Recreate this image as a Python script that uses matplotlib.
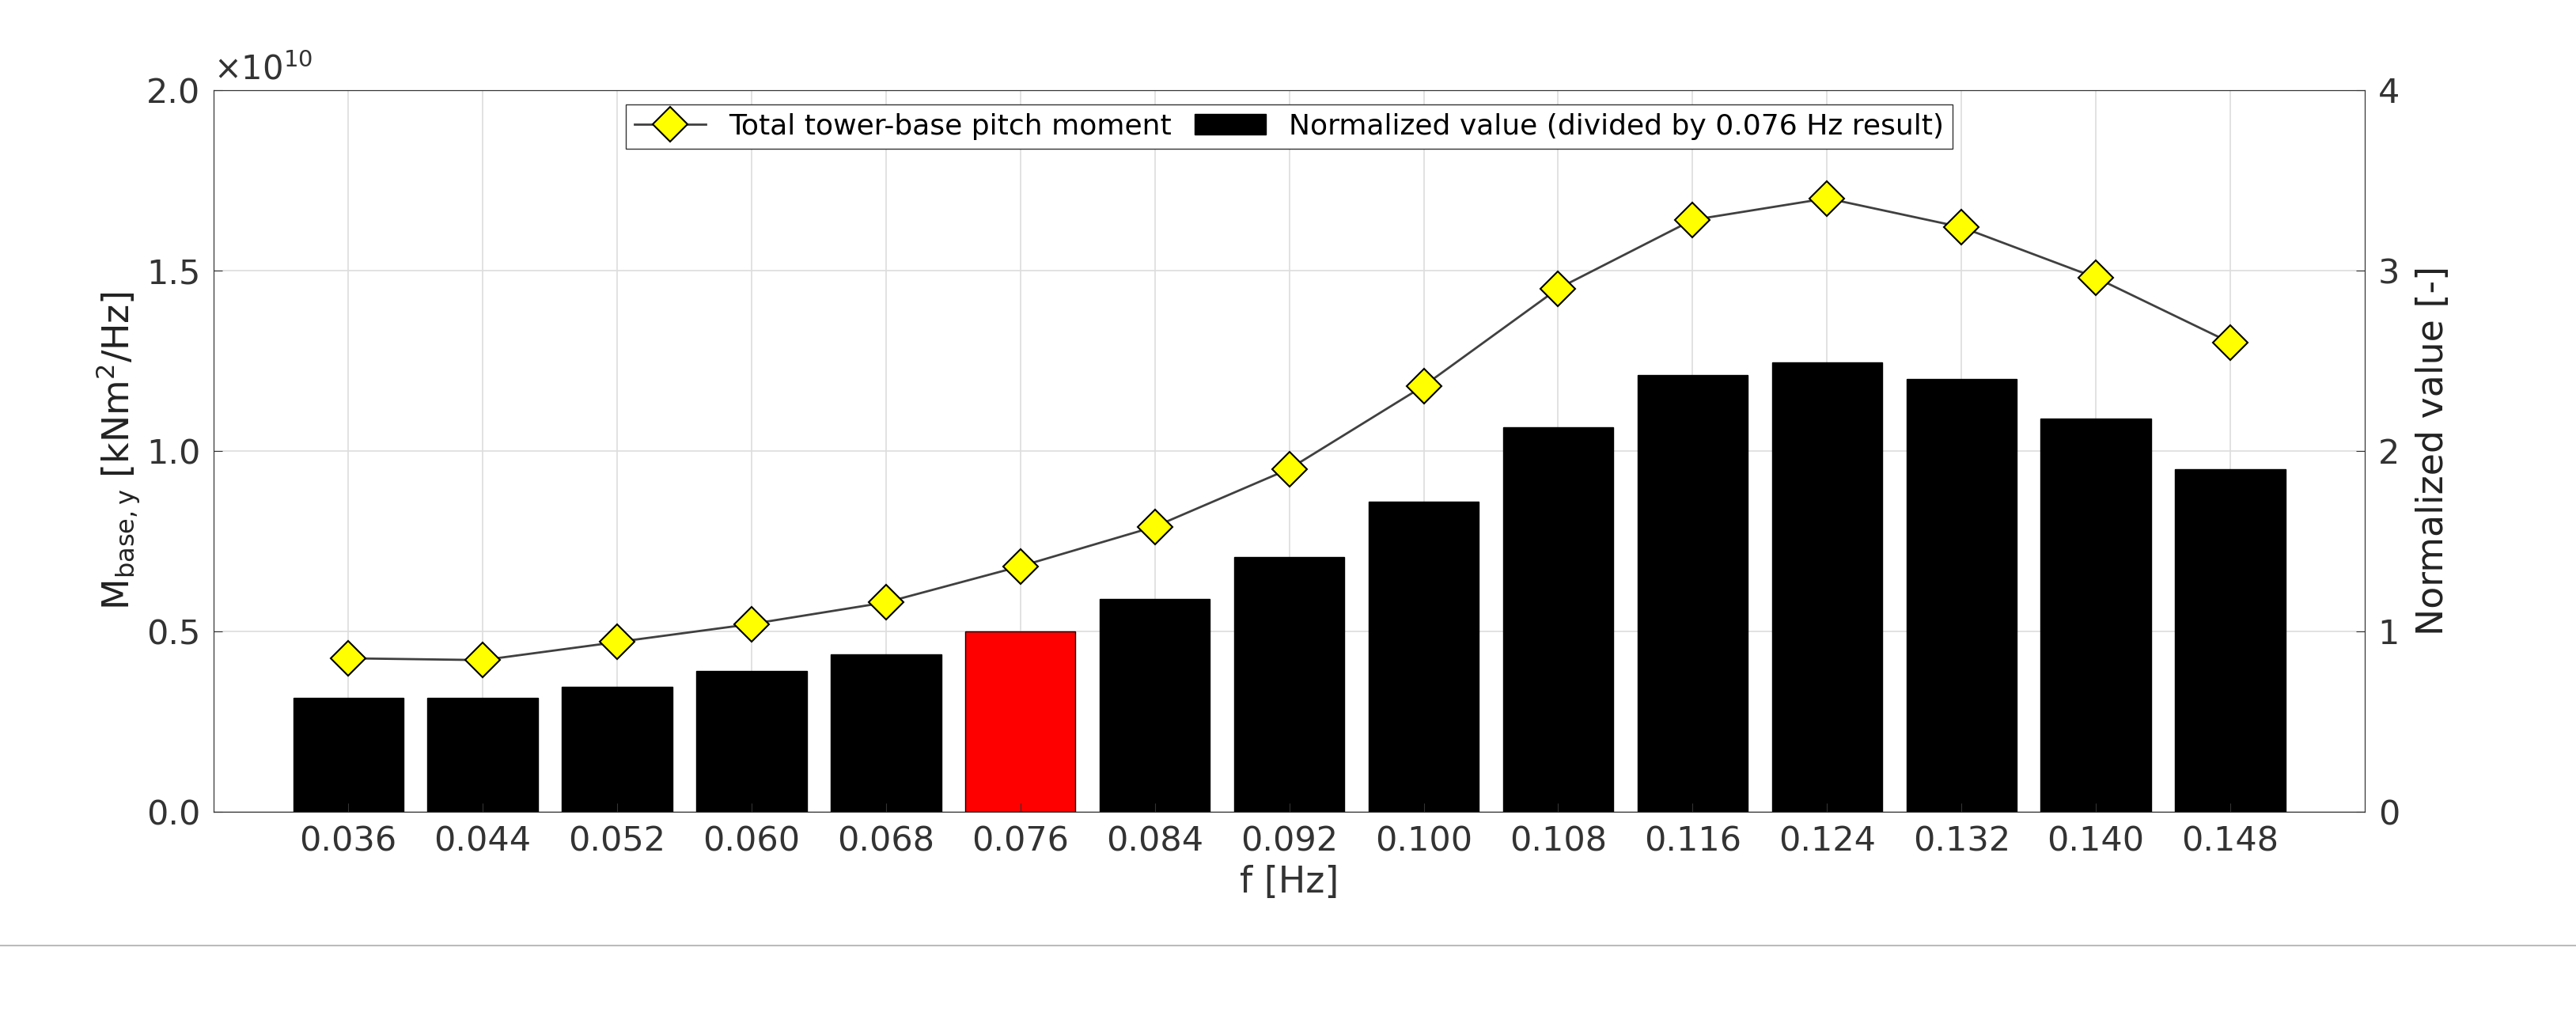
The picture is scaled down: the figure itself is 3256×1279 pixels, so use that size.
import matplotlib
matplotlib.use("Agg")
import matplotlib.pyplot as plt
import numpy as np
from matplotlib.ticker import FuncFormatter

freqs = ["0.036","0.044","0.052","0.060","0.068","0.076","0.084","0.092","0.100","0.108","0.116","0.124","0.132","0.140","0.148"]
moment = [0.425,0.42,0.47,0.52,0.58,0.68,0.79,0.95,1.18,1.45,1.64,1.70,1.62,1.48,1.30]  # x1e10
normalized = [0.63,0.63,0.69,0.78,0.87,1.0,1.18,1.41,1.72,2.13,2.42,2.49,2.40,2.18,1.90]

plt.rcParams['font.family'] = ['DejaVu Sans']
fig = plt.figure(figsize=(32.56,12.79), dpi=100)
ax = fig.add_axes([0.083,0.198,0.835,0.713])
ax2 = ax.twinx()
x = np.arange(len(freqs))
colors = ['red' if f=="0.076" else 'black' for f in freqs]
bars = ax2.bar(x, normalized, width=0.82, color=colors, edgecolor='black', linewidth=1, zorder=2,
               label='Normalized value (divided by 0.076 Hz result)')
ln, = ax.plot(x, np.array(moment)*1e10, color='#404040', lw=2, marker='D', ms=22,
              mfc='#ffff00', mec='black', mew=1.5, label='Total tower-base pitch moment', zorder=5)
ax.set_zorder(ax2.get_zorder()+1); ax.patch.set_visible(False)
ax2.patch.set_visible(True); ax2.patch.set_facecolor('white')
ax.set_xlim(-1,15)
ax.set_ylim(0,2e10); ax2.set_ylim(0,4)
ax.set_yticks(np.arange(0,2.01,0.5)*1e10)
ax2.set_yticks([0,1,2,3,4])
ax.set_xticks(x); ax.set_xticklabels(freqs)
ax.yaxis.set_major_formatter(FuncFormatter(lambda v,p: f"{v/1e10:.1f}"))
ax.text(0.0,1.005,r'$\times 10^{10}$',transform=ax.transAxes,fontsize=30,color='#333333',va='bottom')
ax.grid(False)
ax2.grid(True, axis='y', color='#dddddd', lw=1.2, zorder=0)
for xi in x:
    ax2.axvline(xi, color='#dddddd', lw=1.2, zorder=0)
ax2.set_axisbelow(True)
for a in (ax,ax2):
    a.tick_params(labelsize=31, colors='#333333', length=8, direction='in', pad=12)
    for s in a.spines.values(): s.set_color('#333333')
ax.set_xlabel('f [Hz]', fontsize=33, color='#333333', labelpad=6)
ax.set_ylabel(r'M$_{\mathrm{base,y}}$ [kNm$^2$/Hz]', fontsize=33, color='#222222')
ax2.set_ylabel('Normalized value [-]', fontsize=33, color='#222222', labelpad=14)
leg = ax.legend([ln, bars], [ln.get_label(), bars.get_label()], loc='upper center', ncol=2,
                fontsize=26, framealpha=1, edgecolor='#333333', fancybox=False,
                bbox_to_anchor=(0.5,1.0), handlelength=2.5, columnspacing=0.8, borderpad=0.3)
fig.add_artist(plt.Line2D([0.0,1.0],[0.066,0.066], color='#bbbbbb', lw=1.5, transform=fig.transFigure))
fig.savefig('out.png', dpi=100)
